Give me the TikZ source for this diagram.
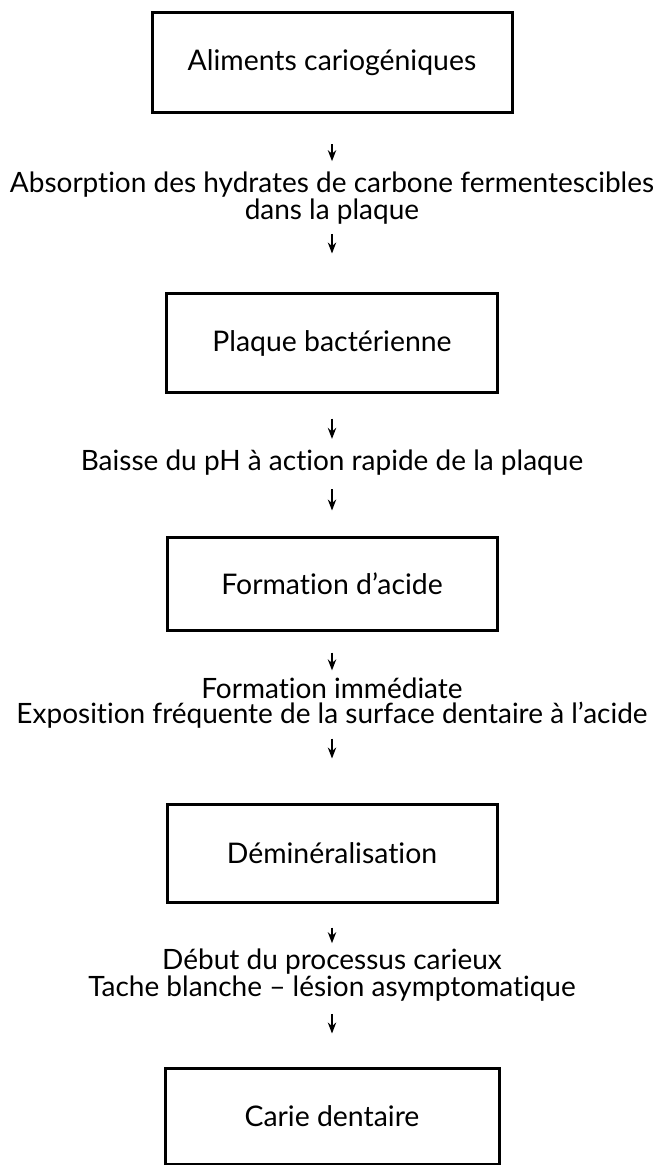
\documentclass[tikz,border=0pt]{standalone}
\usepackage{fontspec}
\setmainfont{Lato}[Ligatures=CommonOff]
\usetikzlibrary{arrows.meta}

\begin{document}
\begin{tikzpicture}[x=0.5pt,y=-0.5pt,
        etape/.style={draw,line width=1.5pt,inner sep=0pt,font=\fontsize{14.2}{15}\selectfont},
        texte/.style={align=center,inner sep=0pt,font=\fontsize{14}{12.5}\selectfont},
        fleche/.style={-{Stealth[length=5.5pt,width=4.2pt]},line width=0.8pt}]
    \useasboundingbox (0,0) rectangle (656,1165);
    % cases
    \node[etape,minimum width=180pt,minimum height=50pt] (A) at (332,63) {Aliments cariogéniques};
    \node[etape,minimum width=165.5pt,minimum height=49.5pt] (B) at (332,343.5) {Plaque bactérienne};
    \node[etape,minimum width=165pt,minimum height=46.5pt] (C) at (332,583.5) {Formation d'acide};
    \node[etape,minimum width=165pt,minimum height=49pt] (D) at (332,853) {Déminéralisation};
    \node[etape,minimum width=167pt,minimum height=48pt] (E) at (332,1116) {Carie dentaire};
    % textes
    \node[texte] (t1) at (332,198) {Absorption des hydrates de carbone fermentescibles\\dans la plaque};
    \node[texte] (t2) at (332,463) {Baisse du pH à action rapide de la plaque};
    \node[texte] (t3) at (332,703) {Formation immédiate\\Exposition fréquente de la surface dentaire à l'acide};
    \node[texte] (t4) at (332,975) {Début du processus carieux\\Tache blanche -- lésion asymptomatique};
    % fleches
    \draw[fleche,shorten <=15pt,shorten >=5pt] (A) -- (t1);
    \draw[fleche,shorten <=4.5pt,shorten >=19.5pt] (t1) -- (B);
    \draw[fleche,shorten <=12pt,shorten >=5.5pt] (B) -- (t2);
    \draw[fleche,shorten <=6.5pt,shorten >=12.5pt] (t2) -- (C);
    \draw[fleche,shorten <=10.5pt,shorten >=3.5pt] (C) -- (t3);
    \draw[fleche,shorten <=5pt,shorten >=22pt] (t3) -- (D);
    \draw[fleche,shorten <=12pt,shorten >=2.5pt] (D) -- (t4);
    \draw[fleche,shorten <=6pt,shorten >=16.5pt] (t4) -- (E);
\end{tikzpicture}
\end{document}
